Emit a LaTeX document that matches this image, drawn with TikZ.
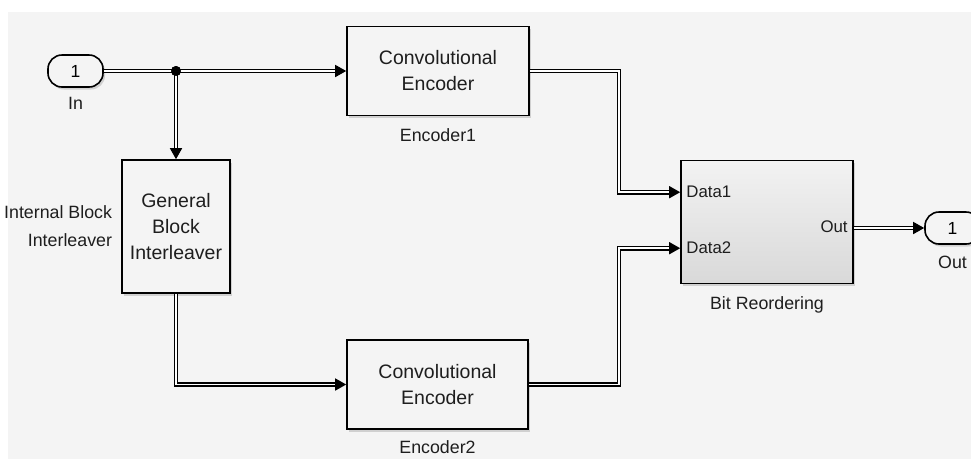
\documentclass[tikz,border=0pt]{standalone}
\usepackage{fontspec}
\setmainfont{Liberation Sans}
\usetikzlibrary{arrows.meta,positioning,shadows,calc}
\definecolor{canvas}{HTML}{F4F4F4}
\definecolor{ink}{HTML}{1E1E1E}
\begin{document}
\begin{tikzpicture}[x=1pt, y=-1pt,
  font=\fontsize{19.5}{26}\selectfont, node distance=12pt and 9pt,
  shd/.style={drop shadow={shadow xshift=2pt, shadow yshift=-2.5pt, opacity=0.3}},
  blk/.style={draw, line width=1.6pt, fill=canvas, align=center, inner sep=0pt,
              text=ink, shd},
  port/.style={draw, line width=1.6pt, fill=canvas, rounded corners=14pt,
               minimum width=55pt, minimum height=32pt, inner sep=0pt,
               font=\fontsize{17.5}{20}\selectfont, shd},
  lbl/.style={inner sep=0pt, text=ink, font=\fontsize{17.8}{28}\selectfont},
  plbl/.style={inner sep=0pt, text=ink, font=\fontsize{16.8}{20}\selectfont},
  dot/.style={circle, fill=black, minimum size=10pt, inner sep=0pt},
  sig/.style={line width=1.5pt, double=white, double distance=1.6pt,
              -{Triangle[length=11pt,width=12pt]}},
]
\path[use as bounding box, clip] (0,0) rectangle (971,459);
\fill[white] (0,0) rectangle (971,459);
\fill[canvas] (8,12) rectangle (971,459);
% ---------------- blocks -----------------
\node[port] (in) at (75.5,71) {1};
\node[lbl, below=9pt of in] (inlbl) {In};
\node[blk, minimum width=182pt, minimum height=89pt] (enc1) at (438,71) {Convolutional\\Encoder};
\node[lbl, below=of enc1] (enc1lbl) {Encoder1};
\node[blk, minimum width=108pt, minimum height=133pt] (intl) at (176,226.5) {General\\Block\\Interleaver};
\node[lbl, left=of intl, align=right] (intllbl) {Internal Block\\Interleaver};
\node[blk, minimum width=181pt, minimum height=89pt] (enc2) at (437.5,384.5) {Convolutional\\Encoder};
\node[lbl, below=11pt of enc2] (enc2lbl) {Encoder2};
\node[blk, minimum width=172pt, minimum height=123pt, top color=black!5,
      middle color=black!2, bottom color=black!15] (br) at (767,222) {};
\node[lbl, below=of br] (brlbl) {Bit Reordering};
\node[plbl, anchor=west] (d1) at ($(br.north west)+(6,32.5)$) {Data1};
\node[plbl, anchor=west] (d2) at ($(br.north west)+(6,88.5)$) {Data2};
\node[plbl, anchor=east] (po) at ($(br.north east)+(-6,67.5)$) {Out};
\node[port] (out) at (952.5,228) {1};
\node[lbl, below=11pt of out] (outlbl) {Out};
% ---------------- signals -----------------
\node[dot] (jn) at (intl.north |- in) {};
\draw[sig] (in.east) -- (enc1.west);
\draw[sig] (jn.center) -- (intl.north);
\node[dot] at (jn) {};
\draw[sig] (intl.south) |- (enc2.west);
\draw[sig] (enc1.east) -- ++(89,0) |- (br.west |- d1);
\draw[sig] (enc2.east) -- ++(90,0) |- (br.west |- d2);
\draw[sig] (br.east |- out) -- (out.west);
\end{tikzpicture}
\end{document}
